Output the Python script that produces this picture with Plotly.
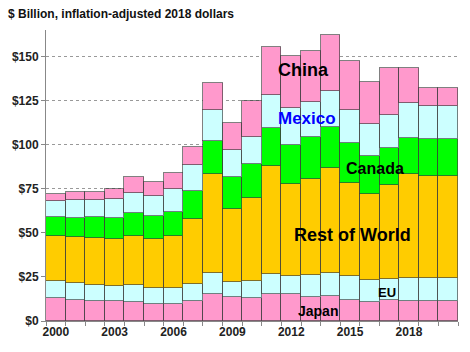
import plotly.graph_objects as go

years = list(range(2000, 2021))
japan  = [13.2, 12.0, 11.5, 11.5, 10.9, 9.8, 9.8, 11.3, 15.5, 13.5, 13.2, 15.5, 15.1, 13.5, 14.3, 12.0, 10.9, 12.0, 11.3, 11.3, 11.3]
eu     = [9.2, 9.5, 8.8, 8.5, 9.3, 9.1, 9.1, 9.4, 11.9, 8.5, 9.4, 11.3, 10.2, 12.4, 13.0, 13.3, 12.1, 12.0, 13.3, 13.3, 13.3]
row    = [26.0, 25.9, 27.0, 26.3, 28.2, 27.4, 29.1, 37.4, 55.7, 41.5, 47.2, 61.2, 52.1, 54.9, 59.7, 52.7, 48.9, 53.0, 58.5, 57.5, 57.9]
canada = [10.6, 11.2, 11.7, 12.3, 12.9, 13.5, 14.0, 15.7, 18.9, 18.2, 19.0, 21.2, 22.3, 23.6, 23.1, 22.7, 21.6, 21.0, 20.6, 21.0, 20.6]
mexico = [9.1, 10.0, 9.6, 10.6, 11.0, 11.3, 13.1, 14.7, 17.6, 15.2, 15.6, 19.1, 21.2, 19.6, 20.5, 18.9, 18.3, 18.8, 19.7, 18.8, 18.8]
china  = [3.9, 4.4, 4.4, 5.9, 9.1, 8.0, 9.1, 10.3, 15.5, 15.1, 20.3, 26.9, 29.4, 29.3, 31.6, 27.8, 23.5, 26.8, 20.2, 10.4, 10.4]

series = [
    ("Japan", japan, "#FF99CC"),
    ("EU", eu, "#CCFFFF"),
    ("Rest of World", row, "#FFCC00"),
    ("Canada", canada, "#00FF00"),
    ("Mexico", mexico, "#CCFFFF"),
    ("China", china, "#FF99CC"),
]
y_ticks = [0, 25, 50, 75, 100, 125, 150]
x_ticks = [2000, 2003, 2006, 2009, 2012, 2015, 2018]

FONT = "Liberation Sans, Arial, sans-serif"

fig = go.Figure()
for name, vals, col in series:
    fig.add_trace(go.Bar(
        x=years, y=vals, name=name,
        marker=dict(color=col, line=dict(color="rgba(60,60,60,0.65)", width=1)),
    ))

labels = [
    ("China", 2012.6, 142.3, 18, "black"),
    ("Mexico", 2012.8, 115.0, 17, "#0000FF"),
    ("Canada", 2016.25, 86.6, 16, "black"),
    ("Rest of World", 2015.1, 48.6, 18, "black"),
    ("EU", 2016.9, 16.4, 13, "black"),
    ("Japan", 2013.36, 5.6, 14, "black"),
]
for txt, x, y, sz, col in labels:
    fig.add_annotation(x=x, y=y, text="<b>%s</b>" % txt, showarrow=False,
                       font=dict(family=FONT, size=sz, color=col),
                       xanchor="center", yanchor="middle")

fig.update_layout(
    barmode="stack", bargap=0,
    width=470, height=352,
    margin=dict(l=46, r=12, t=30, b=31),
    paper_bgcolor="white", plot_bgcolor="white",
    showlegend=False,
    font=dict(family=FONT, size=12, color="#222"),
    title=dict(text="<b>$ Billion, inflation-adjusted 2018 dollars</b>",
               x=8/470, xanchor="left", y=1-14/352, yanchor="middle",
               font=dict(family=FONT, size=12, color="#111")),
)
fig.update_xaxes(
    range=[1999.5, 2020.5],
    tickmode="array", tickvals=x_ticks,
    ticktext=["<b>%d</b>" % v for v in x_ticks],
    ticks="", showgrid=False,
    showline=True, linecolor="#888", linewidth=1,
    tickfont=dict(family=FONT, size=12, color="#222"),
    minor=dict(tick0=1999.5, dtick=1, ticks="outside", ticklen=4,
               tickcolor="#888", showgrid=False),
)
fig.update_yaxes(
    range=[0, 165],
    tickmode="array", tickvals=y_ticks,
    ticktext=["<b>$%d</b>" % v for v in y_ticks],
    ticks="outside", ticklen=4, tickcolor="#888",
    showline=True, linecolor="#888", linewidth=1,
    showgrid=True, gridcolor="#999", griddash="dot", gridwidth=1,
    zeroline=False,
    tickfont=dict(family=FONT, size=12, color="#222"),
)

fig.write_html("out.html")
